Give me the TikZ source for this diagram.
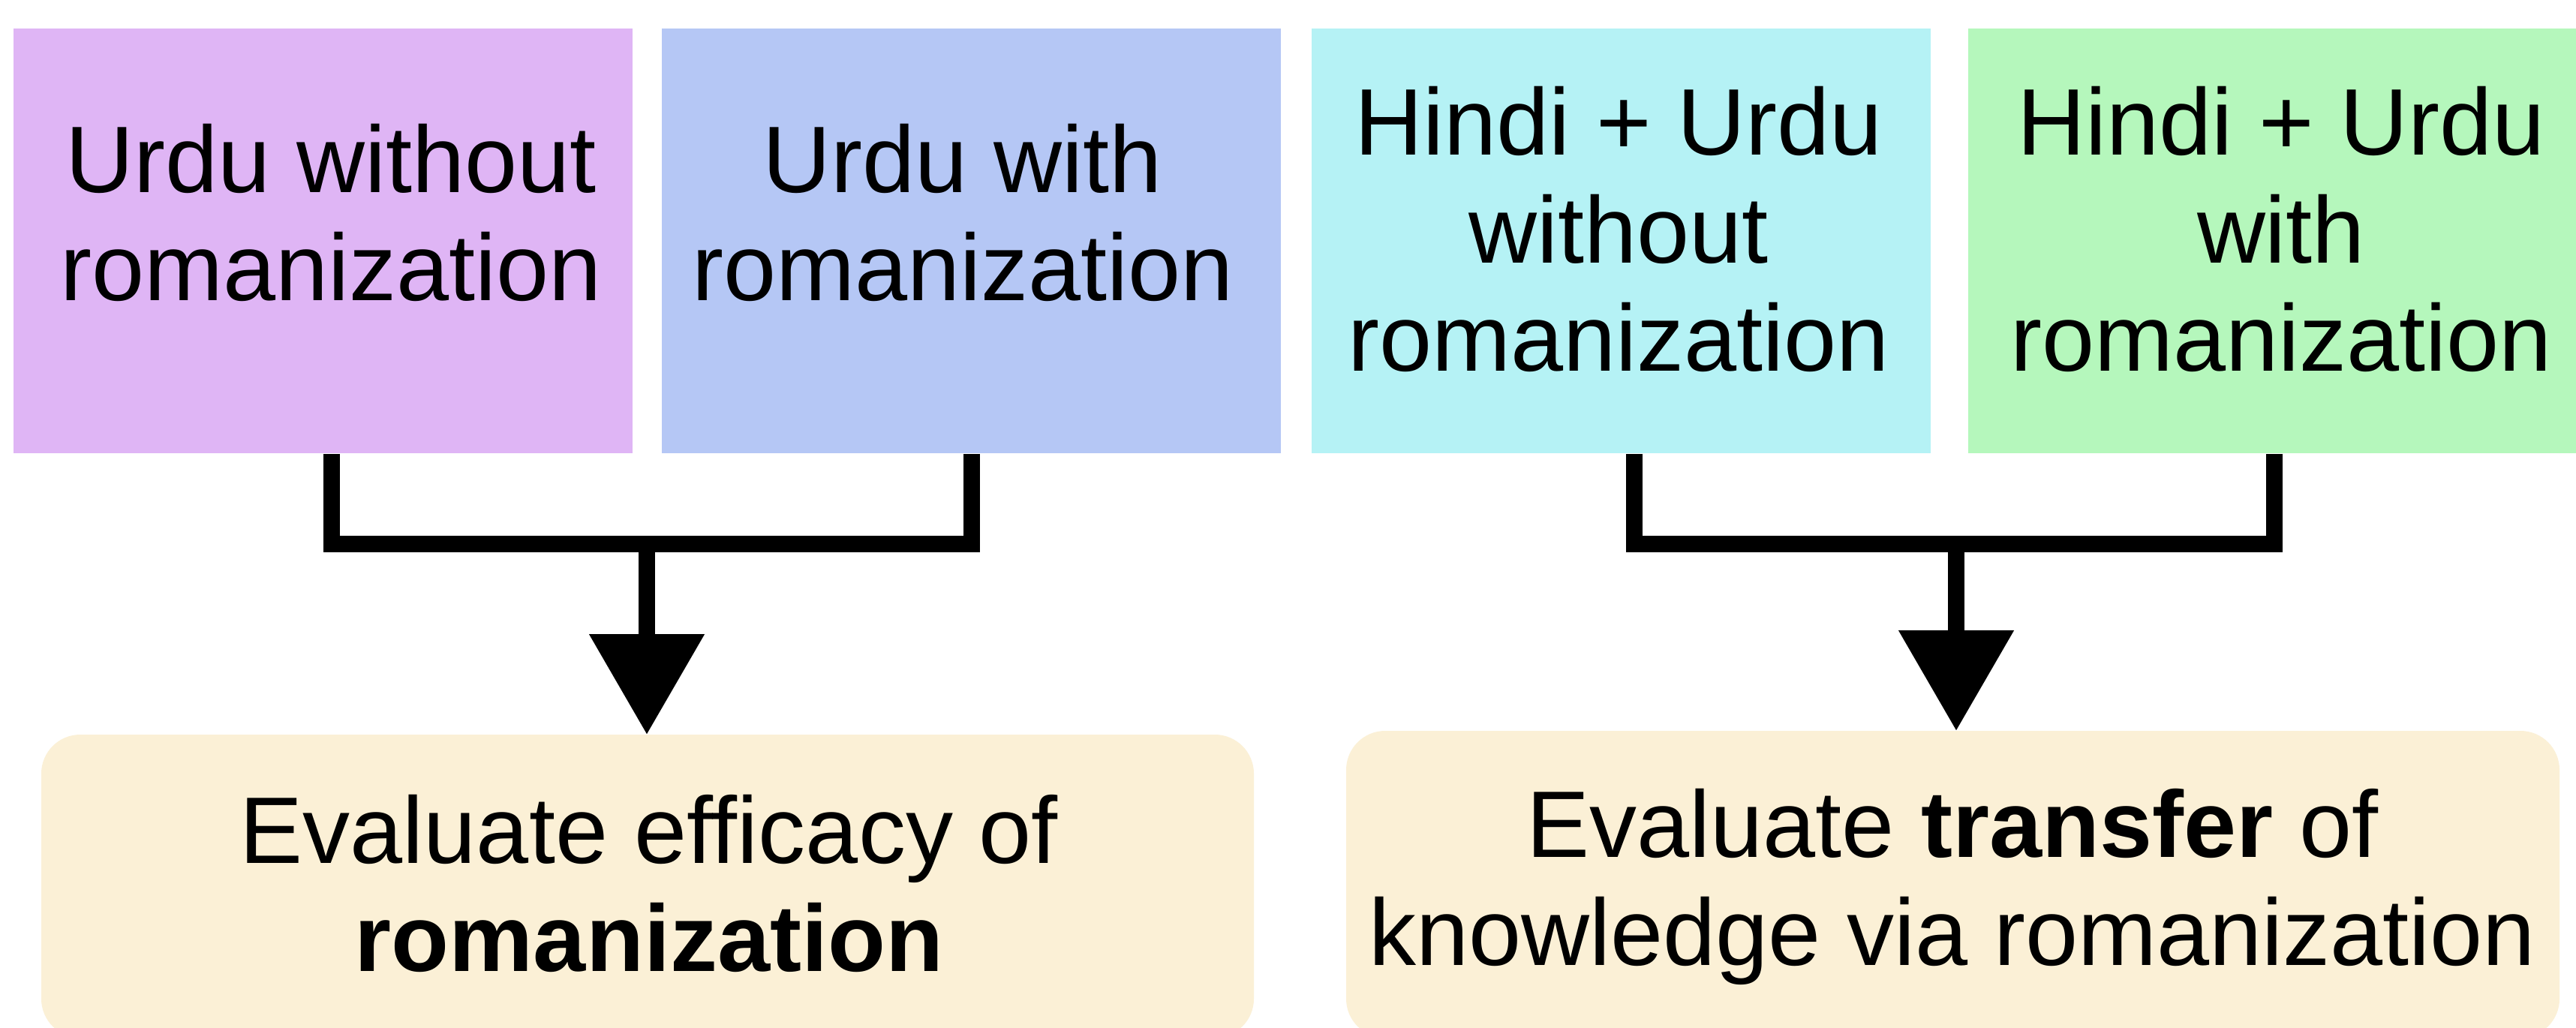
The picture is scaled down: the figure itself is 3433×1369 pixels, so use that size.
\documentclass[tikz,border=0pt]{standalone}
\usepackage{fontspec}
\setmainfont{Liberation Sans}
\usetikzlibrary{arrows.meta,calc}
\definecolor{cpurple}{RGB}{223,181,245}
\definecolor{cblue}{RGB}{181,199,245}
\definecolor{ccyan}{RGB}{181,242,245}
\definecolor{cgreen}{RGB}{181,247,188}
\definecolor{cbeige}{RGB}{251,240,214}
\tikzset{
  topbox/.style={rectangle, draw=none, inner sep=0pt, minimum width=206.25pt, minimum height=141.5pt},
  evalbox/.style={rectangle, draw=none, rounded corners=13pt, fill=cbeige, inner sep=0pt},
  txt/.style={align=center, inner sep=0pt, font=\fontsize{31.5pt}{36pt}\selectfont, anchor=base},
  conn/.style={line width=5.5pt, line cap=butt, draw=black},
  arrowtip/.style={-{Triangle[width=38.5pt,length=33.25pt,line width=0pt]}}
}
\begin{document}
\begin{tikzpicture}[x=0.25pt,y=-0.25pt]
\clip (0,0) rectangle (3433,1369);
\fill[white] (0,0) rectangle (3433,1369);
% top boxes
\node[topbox, fill=cpurple] (b1) at (430.5,321) {};
\node[topbox, fill=cblue]   (b2) at (1294.5,321) {};
\node[topbox, fill=ccyan]   (b3) at (2160,321) {};
\node[topbox, fill=cgreen]  (b4) at (3035.5,321) {};
% bottom boxes
\node[evalbox, minimum width=404pt, minimum height=101pt] (e1) at (863,1181) {};
\node[evalbox, minimum width=404.25pt, minimum height=102.25pt] (e2) at (2602.5,1178.5) {};
% texts (base = baseline of last line)
\node[txt] (t1) at (441,400) {Urdu without\\romanization};
\node[txt] (t2) at (1283,400) {Urdu with\\romanization};
\node[txt] (t3) at (2157,494) {Hindi + Urdu\\without\\romanization};
\node[txt] (t4) at (3040,494) {Hindi + Urdu\\with\\romanization};
\node[txt] (t5) at (865,1294) {Evaluate efficacy of\\\textbf{romanization}};
\node[txt] (t6) at (2602,1286) {Evaluate \textbf{transfer} of\\knowledge via romanization};
% junctions
\coordinate (j1l) at (442,725);
\coordinate (j1r) at (1295,725);
\coordinate (j1c) at (862,725);
\coordinate (j2l) at (2178,725);
\coordinate (j2r) at (3031,725);
\coordinate (j2c) at (2607,725);
% connectors left
\draw[conn] (j1l |- b1.south) -- ($(j1l)+(0,11)$);
\draw[conn] (j1r |- b2.south) -- ($(j1r)+(0,11)$);
\draw[conn] (j1l) -- (j1r);
\draw[conn, arrowtip] (j1c) -- (j1c |- e1.north);
% connectors right
\draw[conn] (j2l |- b3.south) -- ($(j2l)+(0,11)$);
\draw[conn] (j2r |- b4.south) -- ($(j2r)+(0,11)$);
\draw[conn] (j2l) -- (j2r);
\draw[conn, arrowtip] (j2c) -- (j2c |- e2.north);
\end{tikzpicture}
\end{document}
